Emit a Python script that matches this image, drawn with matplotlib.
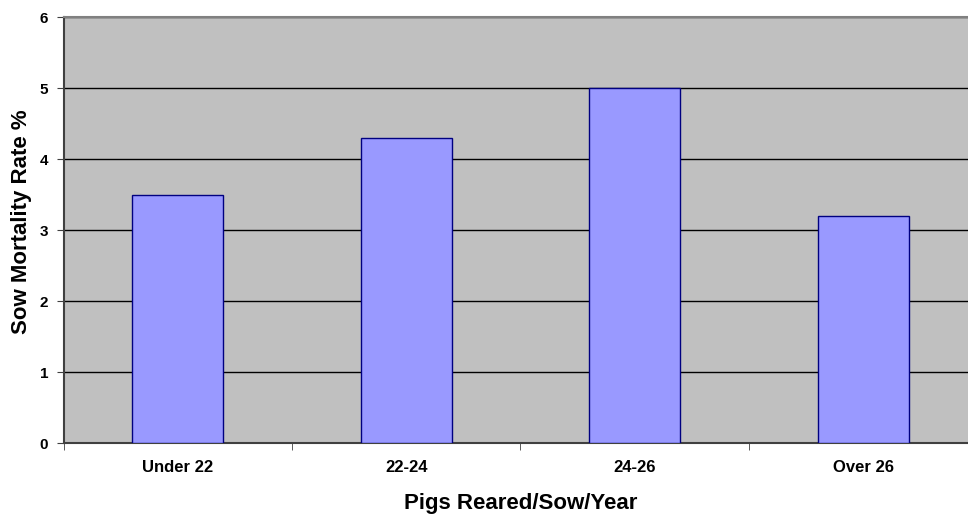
import numpy as np
import matplotlib.pyplot as plt

# ---------- data ----------
categories = ["Under 22", "22-24", "24-26", "Over 26"]
mortality = [3.5, 4.3, 5.0, 3.2]
y_ticks = [0, 1, 2, 3, 4, 5, 6]

plt.rcParams["font.family"] = ["Liberation Sans", "DejaVu Sans"]
plt.rcParams["font.weight"] = "bold"

fig = plt.figure(figsize=(9.68, 5.14), dpi=100)
# plot area runs past the right edge of the picture (cropped like the original)
ax = fig.add_axes([0.0656, 0.1381, 0.9442, 0.8288])
ax.set_facecolor("#C0C0C0")

x = np.arange(len(categories))
ax.bar(x, mortality, width=0.40, color="#9999FF", edgecolor="#000080",
       linewidth=1.0, zorder=3)

ax.set_xlim(-0.5, len(categories) - 0.5)
ax.set_ylim(0, 6)
ax.set_yticks(y_ticks)
ax.yaxis.grid(True, color="black", linewidth=1.0, zorder=1)
ax.set_axisbelow(True)

# category labels centered, tick marks at category boundaries
ax.set_xticks(x)
ax.set_xticklabels(categories, fontsize=12, fontweight="bold")
ax.tick_params(axis="x", length=0, pad=12)
ax.set_xticks(np.arange(-0.5, len(categories) + 0.5, 1), minor=True)
ax.tick_params(axis="x", which="minor", length=5, color="#404040")
ax.tick_params(axis="y", length=5, color="#404040", labelsize=11, pad=6)
for lbl in ax.get_yticklabels():
    lbl.set_fontweight("bold")

ax.spines["right"].set_visible(False)
ax.spines["top"].set_color("#808080")
ax.spines["top"].set_linewidth(1.5)
ax.spines["left"].set_color("#404040")
ax.spines["bottom"].set_color("#404040")
ax.spines["left"].set_linewidth(1.5)
ax.spines["bottom"].set_linewidth(1.5)

ax.set_xlabel("Pigs Reared/Sow/Year", fontsize=16, fontweight="bold")
ax.xaxis.set_label_coords(0.5, -0.117)
ax.set_ylabel("Sow Mortality Rate %", fontsize=16, fontweight="bold")
ax.yaxis.set_label_coords(-0.035, 0.519)

fig.savefig("out.png", dpi=100)
